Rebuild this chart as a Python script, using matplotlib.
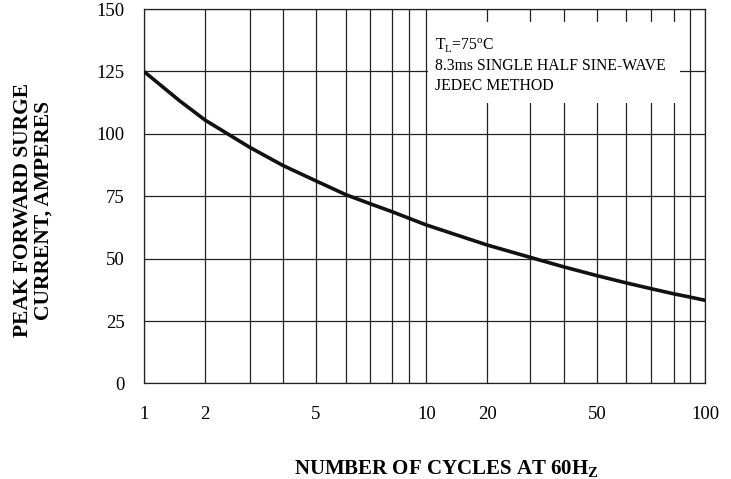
import numpy as np
import matplotlib
matplotlib.use("Agg")
import matplotlib.pyplot as plt
from matplotlib.patches import Rectangle

# Data
cycles = [1, 1.5, 2, 3, 4, 5, 6, 7, 8, 9, 10, 20, 30, 40, 50, 60, 70, 80, 90, 100]
current = [125.0, 113.2, 105.5, 94.6, 87.4, 81.2, 75.6, 72.0, 68.9, 66.2, 63.5,
           55.5, 50.6, 46.7, 43.2, 40.3, 38.0, 35.9, 34.6, 33.3]

x_ticks = [1, 2, 5, 10, 20, 50, 100]
y_ticks = [0, 25, 50, 75, 100, 125, 150]
grid_x = [1, 2, 3, 4, 5, 6, 7, 8, 9, 10, 20, 30, 40, 50, 60, 70, 80, 90, 100]

# The printed chart uses a non-standard "log-like" spacing; map it with a custom scale
knot_vals = np.log10(grid_x)
knot_pos = np.array([0, .109, .1885, .247, .306, .360, .403, .441, .472, .503,
                     .611, .687, .748, .807, .859, .903, .944, .973, 1.0])


def fwd(x):
    x = np.clip(np.asarray(x, dtype=float), 1e-6, None)
    return np.interp(np.log10(x), knot_vals, knot_pos, left=np.nan, right=np.nan)


def inv(p):
    return 10 ** np.interp(p, knot_pos, knot_vals)


plt.rcParams['font.family'] = ['Liberation Serif', 'DejaVu Serif']
plt.rcParams['mathtext.fontset'] = 'custom'
plt.rcParams['mathtext.rm'] = 'Liberation Serif'
plt.rcParams['mathtext.bf'] = 'Liberation Serif:bold'

fig = plt.figure(figsize=(7.31, 4.79), dpi=100)
ax = fig.add_axes([0.197, 0.1994, 0.768, 0.7816])

ax.set_xscale('function', functions=(fwd, inv))
ax.set_xlim(1, 100)
ax.set_ylim(0, 150)

# grid
for gx in grid_x:
    ax.axvline(gx, color='#222222', lw=0.9, zorder=1)
for gy in y_ticks:
    ax.axhline(gy, color='#222222', lw=0.9, zorder=1)

ax.plot(cycles, current, color='#111111', lw=2.6, zorder=3, solid_capstyle='butt')

# white box behind the conditions text
ax.add_patch(Rectangle((0.505, 0.749), 0.45, 0.217, transform=ax.transAxes,
                       facecolor='white', edgecolor='none', zorder=2))
txt_kw = dict(transform=ax.transAxes, fontsize=11.3, va='baseline', ha='left', zorder=4)
ax.text(0.518, 0.8905, r'T$_\mathrm{L}$=75$^\mathrm{o}$C', **txt_kw)
ax.text(0.518, 0.837, '8.3ms SINGLE HALF SINE-WAVE', **txt_kw)
ax.text(0.518, 0.784, 'JEDEC METHOD', **txt_kw)

ax.set_xticks(x_ticks)
ax.set_xticklabels([str(t) for t in x_ticks])
ax.set_yticks(y_ticks)
ax.minorticks_off()
ax.tick_params(axis='both', length=0, labelsize=13.5)
ax.tick_params(axis='x', pad=16)
ax.tick_params(axis='y', pad=14)

for s in ax.spines.values():
    s.set_color('#222222')
    s.set_linewidth(0.9)

fig.text(446 / 731, 1 - 474 / 479, r'NUMBER OF CYCLES AT 60H$_\mathbf{Z}$',
         fontsize=15, fontweight='bold', ha='center', va='baseline')
fig.text(33 / 731, 1 - 210 / 479, 'PEAK FORWARD SURGE\nCURRENT, AMPERES',
         rotation=90, ha='center', va='center', multialignment='center',
         fontsize=15.5, fontweight='bold', linespacing=1.05)

fig.savefig('out.png', dpi=100)
